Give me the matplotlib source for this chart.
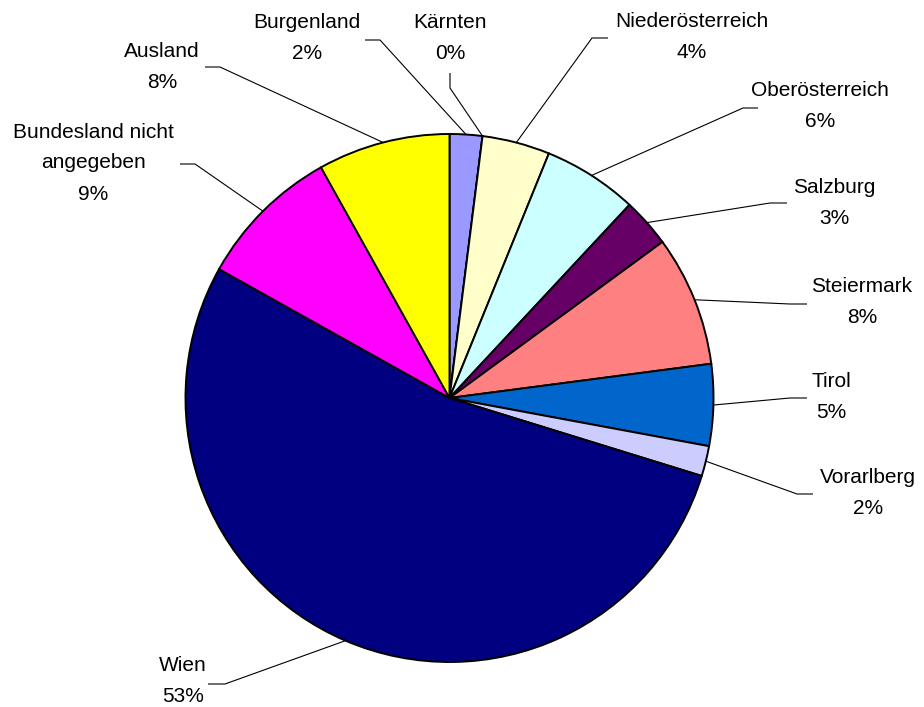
import numpy as np
import matplotlib
matplotlib.use("Agg")
import matplotlib.pyplot as plt

# Data (share of respondents by Bundesland), clockwise from 12 o'clock
categories = ["Burgenland", "Kärnten", "Niederösterreich", "Oberösterreich",
              "Salzburg", "Steiermark", "Tirol", "Vorarlberg", "Wien",
              "Bundesland nicht\nangegeben", "Ausland"]
values = [2.0, 0.0, 4.15, 5.8, 3.0, 8.0, 5.0, 1.85, 53.4, 8.8, 8.1]
colors = ["#9999FF", "#993366", "#FFFFCC", "#CCFFFF", "#660066", "#FF8080",
          "#0066CC", "#CCCCFF", "#000080", "#FF00FF", "#FFFF00"]

# Layout in pixel coordinates (y grows downward)
W, H = 924, 707
center = (449.5, 398)
radius = 264
# label centre (x, y)
label_pos = [(307, 38), (450, 38), (692, 37), (820, 106), (834, 203),
             (862, 302), (831, 397), (868, 493), (183, 681), (93, 163),
             (162, 67)]
# leader line: text-side end, elbow (pie end is computed from the wedge)
leader = [((365, 40), (380, 40)), ((450, 73), (450, 88)),
          ((608, 38), (592, 38)), ((758, 108), (743, 108)),
          ((787, 203), (770, 203)), ((807, 304), (790, 304)),
          ((807, 398), (790, 398)), ((813, 494), (797, 494)),
          ((208, 684), (225, 684)), ((180, 164), (195, 164)),
          ((205, 67), (220, 67))]

plt.rcParams['font.family'] = ['Liberation Sans', 'DejaVu Sans']

fig = plt.figure(figsize=(W / 100, H / 100), dpi=100)
ax = fig.add_axes([0, 0, 1, 1])

wedges, _ = ax.pie(values, colors=colors, startangle=-90, counterclock=True,
                   center=center, radius=radius,
                   wedgeprops=dict(edgecolor="black", linewidth=1.4))
ax.set_xlim(0, W)
ax.set_ylim(H, 0)
ax.set_aspect("equal")
ax.axis("off")

total = sum(values)
for w, cat, v, (tx, ty), (p_far, p_elb) in zip(wedges, categories, values,
                                                label_pos, leader):
    mid = np.deg2rad((w.theta1 + w.theta2) / 2)
    px = center[0] + radius * np.cos(mid)
    py = center[1] + radius * np.sin(mid)
    ax.plot([p_far[0], p_elb[0], px], [p_far[1], p_elb[1], py],
            color="black", lw=0.8, solid_capstyle="butt", zorder=3)
    ax.text(tx, ty, f"{cat}\n{v / total * 100:.0f}%", ha="center", va="center",
            fontsize=15, linespacing=1.8, color="black")

fig.savefig("out.png", dpi=100)
